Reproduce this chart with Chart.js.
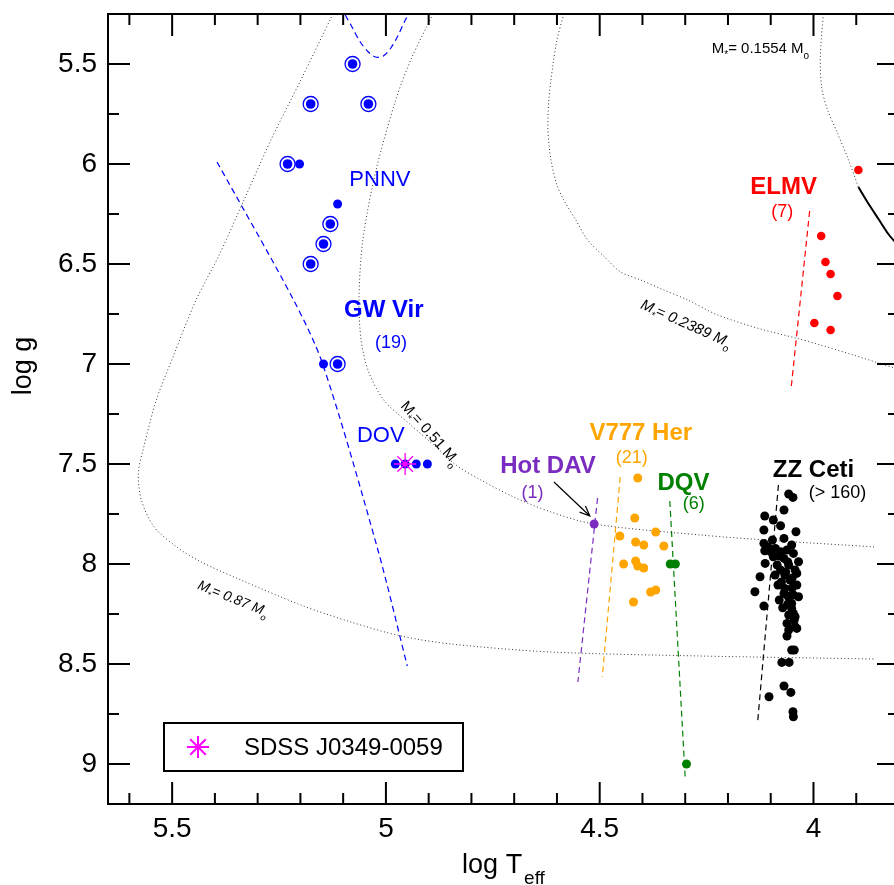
<!DOCTYPE html>
<html>
<head>
<meta charset="utf-8">
<title>log g vs log Teff - pulsating white dwarfs</title>
<script src="https://cdn.jsdelivr.net/npm/chart.js@4.4.1/dist/chart.umd.min.js"></script>
<style>
  html, body { margin: 0; padding: 0; background: #fff; overflow: hidden; }
  #wrap { width: 894px; height: 885px; overflow: hidden; }
</style>
</head>
<body>
<div id="wrap"><canvas id="hrChart" width="900" height="885"></canvas></div>
<script>
// Values: [log Teff, log g]

// GW Vir stars (blue). Ringed ones are drawn with a circle round the dot
var gwVirRinged = [[5.078, 5.5], [5.176, 5.7], [5.041, 5.7], [5.230, 6.0],
    [5.130, 6.3], [5.146, 6.4], [5.176, 6.5], [5.113, 7.0]];
var gwVirPlain = [[5.202, 6.0], [5.113, 6.2], [5.146, 7.0],
    [4.978, 7.5], [4.955, 7.5], [4.929, 7.5], [4.903, 7.5]];

var elmvStars = [[3.895, 6.03], [3.982, 6.36], [3.972, 6.49], [3.960, 6.55],
    [3.944, 6.66], [3.998, 6.795], [3.960, 6.83]];

var hotDavStars = [[4.513, 7.80]];

var v777HerStars = [[4.411, 7.57], [4.418, 7.77], [4.453, 7.86], [4.369, 7.84],
    [4.416, 7.89], [4.397, 7.905], [4.350, 7.91], [4.444, 8.0], [4.416, 7.985],
    [4.411, 8.01], [4.397, 8.02], [4.381, 8.14], [4.369, 8.13], [4.421, 8.19]];

var dqvStars = [[4.335, 8.0], [4.323, 8.0], [4.297, 9.0]];

var zzCetiStars = [
    [4.058, 7.65], [4.048, 7.667], [4.069, 7.73], [4.114, 7.76], [4.094, 7.78],
    [4.077, 7.809], [4.116, 7.83], [4.041, 7.839], [4.069, 7.872], [4.096, 7.88],
    [4.116, 7.897], [4.051, 7.905], [4.107, 7.914], [4.089, 7.922], [4.062, 7.93],
    [4.114, 7.934], [4.077, 7.939], [4.100, 7.939], [4.047, 7.947], [4.094, 7.964],
    [4.080, 7.96], [4.069, 7.972], [4.035, 7.989], [4.060, 7.99], [4.113, 7.997],
    [4.085, 8.005], [4.058, 8.005], [4.077, 8.03], [4.043, 8.03], [4.065, 8.04],
    [4.039, 8.047], [4.090, 8.055], [4.067, 8.055], [4.125, 8.064], [4.050, 8.07],
    [4.055, 8.08], [4.075, 8.09], [4.083, 8.105], [4.039, 8.105], [4.050, 8.12],
    [4.067, 8.122], [4.137, 8.139], [4.069, 8.147], [4.047, 8.155], [4.060, 8.16],
    [4.035, 8.164], [4.080, 8.18], [4.051, 8.197], [4.060, 8.20], [4.116, 8.21],
    [4.072, 8.219], [4.051, 8.222], [4.047, 8.247], [4.058, 8.255], [4.043, 8.264],
    [4.045, 8.28], [4.062, 8.297], [4.043, 8.314], [4.039, 8.322], [4.058, 8.33],
    [4.062, 8.36], [4.051, 8.43], [4.045, 8.43], [4.074, 8.492], [4.057, 8.492],
    [4.069, 8.61], [4.053, 8.642], [4.104, 8.664], [4.048, 8.739], [4.047, 8.764]];

var sdssJ0349 = [[4.955, 7.5]];

// evolutionary tracks (dotted)
var track087 = [[5.124, 5.25], [5.199, 5.58], [5.269, 5.88], [5.332, 6.18], [5.390, 6.455],
    [5.444, 6.68], [5.498, 6.965], [5.537, 7.18], [5.568, 7.43], [5.579, 7.545],
    [5.572, 7.68], [5.542, 7.815], [5.486, 7.92], [5.432, 7.99], [5.339, 8.08],
    [5.199, 8.205], [5.082, 8.29], [4.965, 8.36], [4.848, 8.40], [4.614, 8.44],
    [4.264, 8.46], [3.855, 8.475]];
var track051 = [[4.890, 5.25], [4.942, 5.48], [4.977, 5.68], [5.023, 6.03], [5.054, 6.38],
    [5.063, 6.68], [5.058, 6.88], [5.042, 7.03], [5.005, 7.18], [4.942, 7.305],
    [4.888, 7.405], [4.836, 7.505], [4.778, 7.58], [4.701, 7.665], [4.614, 7.74],
    [4.514, 7.80], [4.264, 7.855], [4.077, 7.885], [3.855, 7.915]];
var track02389 = [[4.584, 5.25], [4.600, 5.38], [4.610, 5.515], [4.619, 5.68], [4.621, 5.83],
    [4.614, 5.98], [4.600, 6.105], [4.584, 6.18], [4.556, 6.28], [4.528, 6.38],
    [4.486, 6.47], [4.451, 6.54], [4.404, 6.58], [4.350, 6.63], [4.294, 6.68],
    [4.224, 6.755], [4.124, 6.825], [4.042, 6.87], [3.984, 6.905], [3.907, 6.955],
    [3.811, 7.02]];
var track01554 = [[3.977, 5.25], [3.984, 5.465], [3.981, 5.615], [3.967, 5.73],
    [3.944, 5.845], [3.918, 5.98], [3.895, 6.115]];
var track01554Solid = [[3.895, 6.115], [3.871, 6.20], [3.848, 6.275], [3.825, 6.35], [3.801, 6.41]];

// instability strip edges (dashed)
var gwVirEdge = [[5.395, 5.99], [5.216, 6.68], [5.148, 7.0], [5.020, 7.92], [4.950, 8.51]];
var gwVirTop = [[5.095, 5.255], [5.078, 5.32], [5.060, 5.39], [5.041, 5.44], [5.025, 5.465],
    [5.006, 5.46], [4.987, 5.415], [4.971, 5.355], [4.957, 5.29], [4.947, 5.25]];
var elmvEdge = [[4.009, 6.235], [4.052, 7.115]];
var hotDavEdge = [[4.505, 7.67], [4.551, 8.59]];
var v777HerEdge = [[4.452, 7.565], [4.494, 8.565]];
var dqvEdge = [[4.336, 7.685], [4.300, 9.07]];
var zzCetiEdge = [[4.082, 7.605], [4.131, 8.80]];

// axis tick labels
var xTickLabels = [4, 4.5, 5, 5.5];
var yTickLabels = [5.5, 6, 6.5, 7, 7.5, 8, 8.5, 9];
var xMinorStep = 0.1;
var yMinorStep = 0.25;

var FONT = "'Liberation Sans', Arial, Helvetica, sans-serif";
var BLUE = '#0000ff', RED = '#ff0000', ORANGE = '#ffa500', GREEN = '#008000',
    PURPLE = '#7a2cc0', MAGENTA = '#ff00ff';

function pts(arr) {
    return arr.map(function (p) { return { x: p[0], y: p[1] }; });
}

function dots(arr, color, r, order) {
    return {
        data: pts(arr), backgroundColor: color, borderColor: color, borderWidth: 0,
        pointRadius: r, pointHoverRadius: r, order: order
    };
}

function curve(arr, color, width, dash, tension) {
    return {
        data: pts(arr), showLine: true, pointRadius: 0, pointHoverRadius: 0,
        borderColor: color, borderWidth: width, borderDash: dash,
        tension: tension, fill: false, order: 10
    };
}

// text labels placed in data coordinates
var groupLabels = [
    { t: 'PNNV', x: 5.014, y: 6.08, c: BLUE, s: 22, b: false },
    { t: 'GW Vir', x: 5.005, y: 6.73, c: BLUE, s: 24, b: true },
    { t: '(19)', x: 4.988, y: 6.895, c: BLUE, s: 18, b: false },
    { t: 'DOV', x: 5.012, y: 7.36, c: BLUE, s: 22, b: false },
    { t: 'ELMV', x: 4.070, y: 6.115, c: RED, s: 24, b: true },
    { t: '(7)', x: 4.073, y: 6.24, c: RED, s: 18, b: false },
    { t: 'Hot DAV', x: 4.621, y: 7.51, c: PURPLE, s: 24, b: true },
    { t: '(1)', x: 4.657, y: 7.645, c: PURPLE, s: 18, b: false },
    { t: 'V777 Her', x: 4.404, y: 7.345, c: ORANGE, s: 24, b: true },
    { t: '(21)', x: 4.425, y: 7.47, c: ORANGE, s: 18, b: false },
    { t: 'DQV', x: 4.304, y: 7.595, c: GREEN, s: 24, b: true },
    { t: '(6)', x: 4.280, y: 7.70, c: GREEN, s: 18, b: false },
    { t: 'ZZ Ceti', x: 4.0, y: 7.53, c: '#000', s: 24, b: true },
    { t: '(> 160)', x: 3.944, y: 7.645, c: '#000', s: 18, b: false }
];

var massLabels = [
    { m: '0.51', x: 4.895, y: 7.345, rot: 48, s: 15, it: false },
    { m: '0.87', x: 5.357, y: 8.17, rot: 22, s: 14, it: true },
    { m: '0.2389', x: 4.297, y: 6.795, rot: 24, s: 15, it: true },
    { m: '0.1554', x: 4.124, y: 5.42, rot: 0, s: 15, it: false }
];

function drawMassLabel(ctx, cx, cy, lab) {
    var base = (lab.it ? 'italic ' : '') + lab.s + 'px ' + FONT;
    var sub = (lab.it ? 'italic ' : '') + Math.round(lab.s * 0.65) + 'px ' + FONT;
    var parts = [['M', base, 0], ['*', sub, 0.3], ['= ' + lab.m + ' M', base, 0], ['o', sub, 0.35]];
    var total = 0;
    parts.forEach(function (p) { ctx.font = p[1]; p.push(ctx.measureText(p[0]).width); total += p[3]; });
    ctx.save();
    ctx.translate(cx, cy);
    ctx.rotate(lab.rot * Math.PI / 180);
    ctx.fillStyle = '#000';
    ctx.textBaseline = 'alphabetic';
    ctx.textAlign = 'left';
    var xx = -total / 2;
    parts.forEach(function (p) {
        ctx.font = p[1];
        ctx.fillText(p[0], xx, lab.s * 0.35 + p[2] * lab.s);
        xx += p[3];
    });
    ctx.restore();
}

var annotations = {
    id: 'annotations',
    afterDatasetsDraw: function (chart) {
        var ctx = chart.ctx, xs = chart.scales.x, ys = chart.scales.y;
        ctx.save();
        ctx.textAlign = 'center';
        ctx.textBaseline = 'middle';
        groupLabels.forEach(function (l) {
            ctx.font = (l.b ? 'bold ' : '') + l.s + 'px ' + FONT;
            ctx.fillStyle = l.c;
            ctx.fillText(l.t, xs.getPixelForValue(l.x), ys.getPixelForValue(l.y));
        });
        massLabels.forEach(function (l) {
            drawMassLabel(ctx, xs.getPixelForValue(l.x), ys.getPixelForValue(l.y), l);
        });

        // arrow pointing to the hot DAV star
        var x0 = xs.getPixelForValue(4.607), y0 = ys.getPixelForValue(7.59);
        var x1 = xs.getPixelForValue(4.523), y1 = ys.getPixelForValue(7.76);
        var ang = Math.atan2(y1 - y0, x1 - x0);
        ctx.strokeStyle = '#000';
        ctx.lineWidth = 1.2;
        ctx.beginPath();
        ctx.moveTo(x0, y0);
        ctx.lineTo(x1, y1);
        ctx.moveTo(x1 - 11 * Math.cos(ang - 0.4), y1 - 11 * Math.sin(ang - 0.4));
        ctx.lineTo(x1, y1);
        ctx.lineTo(x1 - 11 * Math.cos(ang + 0.4), y1 - 11 * Math.sin(ang + 0.4));
        ctx.stroke();
        ctx.restore();
    }
};

var frameAndTitles = {
    id: 'frameAndTitles',
    afterDraw: function (chart) {
        var ctx = chart.ctx, a = chart.chartArea, xs = chart.scales.x, ys = chart.scales.y;
        ctx.save();
        ctx.strokeStyle = '#000';
        ctx.lineWidth = 2;
        ctx.strokeRect(a.left, a.top, a.right - a.left, a.bottom - a.top);

        ctx.beginPath();
        var k, v, px, len;
        for (k = Math.ceil(xs.min / xMinorStep - 1e-6); k * xMinorStep <= xs.max + 1e-6; k++) {
            v = k * xMinorStep;
            len = xTickLabels.some(function (t) { return Math.abs(t - v) < 1e-6; }) ? 22 : 11;
            px = xs.getPixelForValue(v);
            ctx.moveTo(px, a.bottom); ctx.lineTo(px, a.bottom - len);
            ctx.moveTo(px, a.top); ctx.lineTo(px, a.top + len);
        }
        for (k = Math.ceil(ys.min / yMinorStep - 1e-6); k * yMinorStep <= ys.max + 1e-6; k++) {
            v = k * yMinorStep;
            len = yTickLabels.some(function (t) { return Math.abs(t - v) < 1e-6; }) ? 22 : 11;
            px = ys.getPixelForValue(v);
            ctx.moveTo(a.left, px); ctx.lineTo(a.left + len, px);
            ctx.moveTo(a.right, px); ctx.lineTo(a.right - len, px);
        }
        ctx.stroke();

        // legend box
        var bx = a.left + 56, by = a.bottom - 81;
        ctx.lineWidth = 2;
        ctx.strokeRect(bx, by, 299, 48);
        ctx.strokeStyle = MAGENTA;
        Chart.helpers.drawPoint(ctx, {
            pointStyle: 'star', radius: 11, borderWidth: 1.3, rotation: 0
        }, bx + 34, by + 24);
        ctx.fillStyle = '#000';
        ctx.font = '24px ' + FONT;
        ctx.textAlign = 'left';
        ctx.textBaseline = 'middle';
        ctx.fillText('SDSS J0349-0059', bx + 80, by + 25);

        // axis titles
        ctx.textBaseline = 'alphabetic';
        ctx.font = '27px ' + FONT;
        var w1 = ctx.measureText('log T').width;
        ctx.font = '19px ' + FONT;
        var w2 = ctx.measureText('eff').width;
        var sx = (a.left + a.right) / 2 - (w1 + w2 + 2) / 2;
        ctx.font = '27px ' + FONT;
        ctx.fillText('log T', sx, 873);
        ctx.font = '19px ' + FONT;
        ctx.fillText('eff', sx + w1 + 2, 884);

        ctx.translate(24, 366);
        ctx.rotate(-Math.PI / 2);
        ctx.font = '27px ' + FONT;
        ctx.textAlign = 'center';
        ctx.textBaseline = 'middle';
        ctx.fillText('log g', 0, 0);
        ctx.restore();
    }
};

// drop the label overhang padding so the plot frame lands where the reference has it
function noOverhang(s) {
    s.paddingTop = 0; s.paddingBottom = 0; s.paddingLeft = 0; s.paddingRight = 0;
}

var ringStyle = {
    data: pts(gwVirRinged), backgroundColor: 'rgba(0,0,0,0)', borderColor: BLUE,
    borderWidth: 1.3, pointRadius: 7.5, pointHoverRadius: 7.5, order: 2
};

var starStyle = {
    data: pts(sdssJ0349), pointStyle: 'star', borderColor: MAGENTA, backgroundColor: MAGENTA,
    borderWidth: 1.3, pointRadius: 11, pointHoverRadius: 11, order: 0
};

new Chart(document.getElementById('hrChart'), {
    type: 'scatter',
    data: {
        datasets: [
            curve(track087, '#333', 1, [1, 2.5], 0.3),
            curve(track051, '#333', 1, [1, 2.5], 0.3),
            curve(track02389, '#333', 1, [1, 2.5], 0.3),
            curve(track01554, '#333', 1, [1, 2.5], 0.3),
            curve(track01554Solid, '#000', 2, [], 0.2),
            curve(gwVirEdge, BLUE, 1.2, [6, 4], 0.3),
            curve(gwVirTop, BLUE, 1.2, [6, 4], 0.3),
            curve(elmvEdge, RED, 1.2, [6, 4], 0),
            curve(hotDavEdge, PURPLE, 1.2, [6, 4], 0),
            curve(v777HerEdge, ORANGE, 1.2, [6, 4], 0),
            curve(dqvEdge, GREEN, 1.2, [6, 4], 0),
            curve(zzCetiEdge, '#000', 1.2, [6, 4], 0),
            ringStyle,
            dots(gwVirRinged, BLUE, 4.8, 1),
            dots(gwVirPlain, BLUE, 4.5, 1),
            dots(elmvStars, RED, 4.3, 1),
            dots(hotDavStars, PURPLE, 4.5, 1),
            dots(v777HerStars, ORANGE, 4.5, 1),
            dots(dqvStars, GREEN, 4.5, 1),
            dots(zzCetiStars, '#000', 4.5, 1),
            starStyle
        ]
    },
    options: {
        responsive: false,
        animation: false,
        devicePixelRatio: 1,
        events: [],
        layout: { autoPadding: false, padding: { top: 14, right: 1, left: 0, bottom: 0 } },
        plugins: {
            legend: { display: false },
            tooltip: { enabled: false }
        },
        scales: {
            x: {
                type: 'linear',
                reverse: true,
                min: 3.8,
                max: 5.65,
                afterBuildTicks: function (s) {
                    s.ticks = xTickLabels.map(function (v) { return { value: v }; });
                },
                afterFit: function (s) { s.height = 81; noOverhang(s); },
                grid: { display: false, drawTicks: false },
                border: { display: false },
                ticks: {
                    padding: 8,
                    color: '#000',
                    autoSkip: false,
                    maxRotation: 0,
                    font: { family: FONT, size: 28 },
                    callback: function (v) { return String(v); }
                }
            },
            y: {
                type: 'linear',
                reverse: true,
                min: 5.25,
                max: 9.2,
                afterBuildTicks: function (s) {
                    s.ticks = yTickLabels.map(function (v) { return { value: v }; });
                },
                afterFit: function (s) { s.width = 108; noOverhang(s); },
                grid: { display: false, drawTicks: false },
                border: { display: false },
                ticks: {
                    padding: 11,
                    color: '#000',
                    autoSkip: false,
                    font: { family: FONT, size: 28 },
                    callback: function (v) { return String(v); }
                }
            }
        }
    },
    plugins: [annotations, frameAndTitles]
});
</script>
</body>
</html>
